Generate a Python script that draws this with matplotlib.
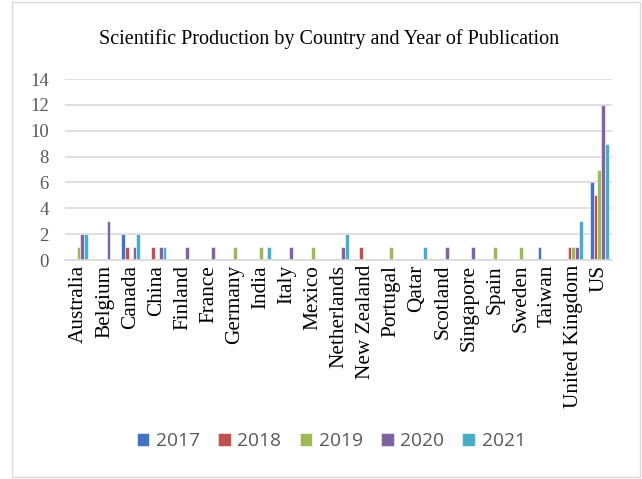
import matplotlib.pyplot as plt
import numpy as np
from matplotlib.patches import Rectangle

# Data
countries = ['Australia', 'Belgium', 'Canada', 'China', 'Finland', 'France', 'Germany',
             'India', 'Italy', 'Mexico', 'Netherlands', 'New Zealand', 'Portugal', 'Qatar',
             'Scotland', 'Singapore', 'Spain', 'Sweden', 'Taiwan', 'United Kingdom', 'US']
years = ['2017', '2018', '2019', '2020', '2021']
y2017 = [0, 0, 2, 0, 0, 0, 0, 0, 0, 0, 0, 0, 0, 0, 0, 0, 0, 0, 1, 0, 6]
y2018 = [0, 0, 1, 1, 0, 0, 0, 0, 0, 0, 0, 1, 0, 0, 0, 0, 0, 0, 0, 1, 5]
y2019 = [1, 0, 0, 0, 0, 0, 1, 1, 0, 1, 0, 0, 1, 0, 0, 0, 1, 1, 0, 1, 7]
y2020 = [2, 3, 1, 1, 1, 1, 0, 0, 1, 0, 1, 0, 0, 0, 1, 1, 0, 0, 0, 1, 12]
y2021 = [2, 0, 2, 1, 0, 0, 0, 1, 0, 0, 2, 0, 0, 1, 0, 0, 0, 0, 0, 3, 9]
series = [y2017, y2018, y2019, y2020, y2021]
colors = ['#4472C4', '#C0504D', '#9BBB59', '#8064A2', '#4BACC6']

fig = plt.figure(figsize=(6.42, 4.79), dpi=100)
ax = fig.add_axes([0.102, 0.457, 0.852, 0.378])

x = np.arange(len(countries))
w = 0.15
for i, (vals, c, yr) in enumerate(zip(series, colors, years)):
    ax.bar(x + (i - 2) * w, vals, w, color=c, label=yr, edgecolor='white', linewidth=0.4)

ax.set_xlim(-0.5, len(countries) - 0.5)
ax.set_ylim(0, 14)
ax.set_yticks(range(0, 15, 2))
ax.yaxis.grid(True, color='#d9d9d9', linewidth=1.2)
ax.set_axisbelow(True)
for s in ['top', 'right', 'left']:
    ax.spines[s].set_visible(False)
ax.spines['bottom'].set_color('#d9d9d9')
ax.spines['bottom'].set_linewidth(1.2)
ax.tick_params(axis='both', length=0, colors='#595959')
ax.set_xticks(x)
ax.set_xticklabels(countries, rotation=90, fontfamily='Liberation Serif', fontsize=15.3, color='black')
for lab in ax.get_yticklabels():
    lab.set_fontfamily('Liberation Serif')
    lab.set_fontsize(13.5)
ax.tick_params(axis='y', pad=12)

fig.text(0.512, 0.918, 'Scientific Production by Country and Year of Publication',
         ha='center', va='center', fontfamily='Liberation Serif', fontsize=14.5)

leg = fig.legend(loc='center', bbox_to_anchor=(0.516, 0.079), ncol=5, frameon=False,
                 prop={'family': 'Open Sans', 'size': 13.8},
                 handlelength=0.65, handleheight=0.65, columnspacing=0.95, handletextpad=0.35)
for t in leg.get_texts():
    t.set_color('#595959')

fig.patches.append(Rectangle((12 / 642, 2 / 479), 628 / 642, 475 / 479, transform=fig.transFigure,
                             fill=False, edgecolor='#d9d9d9', linewidth=1))

plt.savefig('out.png', dpi=100)
